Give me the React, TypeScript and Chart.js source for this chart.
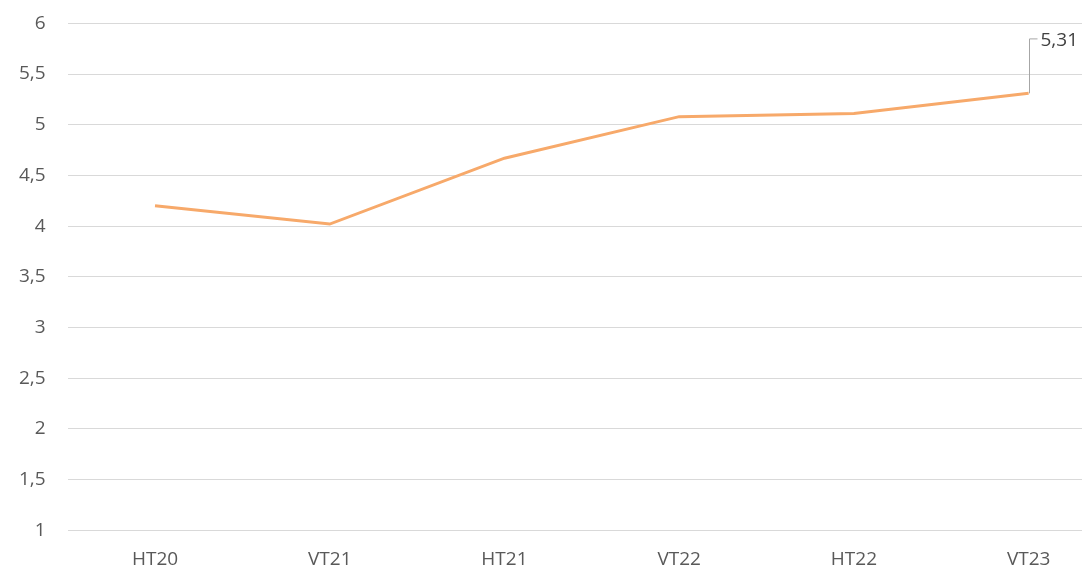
import React, { useEffect, useRef } from "react";
import { Chart, registerables } from "chart.js";

Chart.register(...registerables);

const categories = ["HT20", "VT21", "HT21", "VT22", "HT22", "VT23"];
const values = [4.2, 4.02, 4.67, 5.08, 5.11, 5.31];
const labelText = "5,31";

const FONT = "'Open Sans', sans-serif";

const leaderPlugin = {
  id: "leader",
  afterDatasetsDraw(chart: any) {
    const meta = chart.getDatasetMeta(0);
    const pt = meta.data[meta.data.length - 1];
    if (!pt) return;
    const ctx = chart.ctx;
    const x = Math.round(pt.x) + 0.5;
    const y = pt.y;
    const topY = chart.chartArea.top + 15.5;
    ctx.save();
    ctx.strokeStyle = "#a6a6a6";
    ctx.lineWidth = 1;
    ctx.beginPath();
    ctx.moveTo(x, y);
    ctx.lineTo(x, topY);
    ctx.lineTo(x + 8, topY);
    ctx.stroke();
    ctx.fillStyle = "#404040";
    ctx.font = `19px ${FONT}`;
    ctx.textBaseline = "middle";
    ctx.textAlign = "left";
    ctx.fillText(labelText, x + 11, topY + 2);
    ctx.restore();
  },
};

export default function App() {
  const ref = useRef<HTMLCanvasElement>(null);
  useEffect(() => {
    if (!ref.current) return;
    const chart = new Chart(ref.current, {
      type: "line",
      data: {
        labels: categories,
        datasets: [
          {
            data: values,
            borderColor: "#F7A96A",
            borderWidth: 3,
            pointRadius: 0,
            tension: 0,
            fill: false,
          },
        ],
      },
      options: {
        responsive: false,
        animation: false,
        layout: { padding: { left: 0, right: 4, top: 13, bottom: 1 } },
        plugins: { legend: { display: false }, tooltip: { enabled: false } },
        scales: {
          x: {
            offset: true,
            grid: { display: false, drawTicks: false },
            border: { display: false },
            ticks: {
              color: "#595959",
              font: { family: FONT, size: 19 },
              padding: 18,
              maxRotation: 0,
            },
          },
          y: {
            min: 1,
            max: 6,
            grid: { color: "#d9d9d9", drawTicks: false, lineWidth: 1 },
            border: { display: false },
            ticks: {
              stepSize: 0.5,
              color: "#595959",
              font: { family: FONT, size: 19 },
              padding: 22,
              callback: (v: any) => String(Number(v)).replace(".", ","),
            },
          },
        },
      },
      plugins: [leaderPlugin],
    });
    return () => chart.destroy();
  }, []);
  return (
    <div
      style={{
        position: "fixed",
        left: 0,
        top: 0,
        width: 1082,
        height: 567,
        overflow: "hidden",
        background: "#fff",
      }}
    >
      <canvas
        ref={ref}
        width={1123}
        height={600}
        style={{ display: "block", marginLeft: -3, marginTop: -10 }}
      />
    </div>
  );
}
